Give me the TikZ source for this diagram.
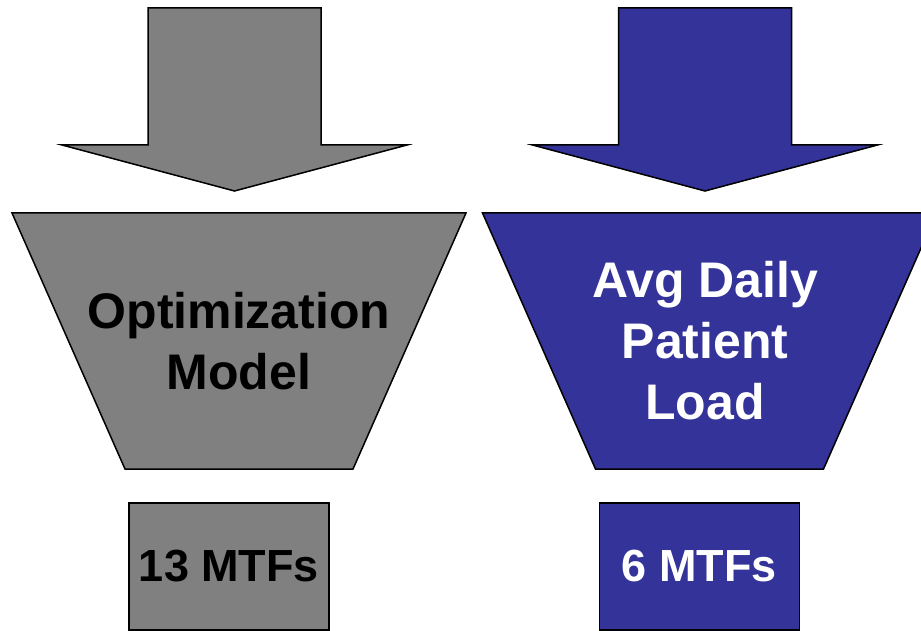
\documentclass[tikz,border=0pt]{standalone}
\usepackage{fontspec}
\setmainfont{Liberation Sans}
\definecolor{modelgray}{HTML}{808080}
\definecolor{loadblue}{HTML}{333399}
\begin{document}
\begin{tikzpicture}[x=1pt,y=-1pt]
\tikzset{outline/.style={draw=black,line width=1.5pt,line join=miter}}

\tikzset{funnelText/.style={
align=center,inner sep=0pt,
font=\fontsize{50}{61}\selectfont\bfseries}}

\tikzset{resultText/.style={
inner sep=0pt,
font=\fontsize{45}{54}\selectfont\bfseries}}

\clip (0,0) rectangle (921,631);

% left column
\draw[outline,fill=modelgray]
(148,8) -- (321,8) -- (321,145) -- (407,145)
-- (234.5,191) -- (62,145) -- (148,145) -- cycle;

\draw[outline,fill=modelgray]
(12,213) -- (466,213) -- (353,469) -- (125,469) -- cycle;
\path (239,341) node[funnelText,black,name=optModel]
{Optimization\\Model};

\draw[outline,fill=modelgray]
(129,503) rectangle (329,630);
\path (229,566) node[resultText,black,name=optCount]
{13 MTFs};

% right column
\draw[outline,fill=loadblue]
(618.5,8) -- (791.5,8) -- (791.5,145) -- (877.5,145)
-- (705,191) -- (532.5,145) -- (618.5,145) -- cycle;

\draw[outline,fill=loadblue]
(482.5,213) -- (936.5,213) -- (823.5,469) -- (595.5,469) -- cycle;
\path (705,341) node[funnelText,white,name=loadModel]
{Avg Daily\\Patient\\Load};

\draw[outline,fill=loadblue]
(599.5,503) rectangle (799.5,630);
\path (699.5,566) node[resultText,white,name=loadCount]
{6 MTFs};

\end{tikzpicture}
\end{document}
